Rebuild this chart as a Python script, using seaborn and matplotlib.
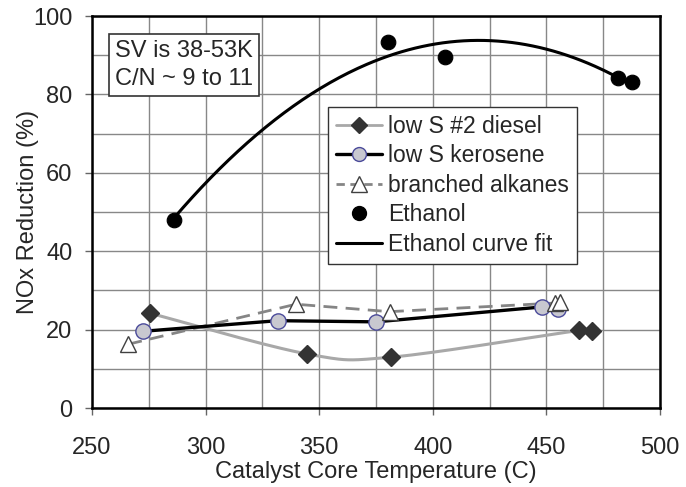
import numpy as np
import matplotlib
matplotlib.use("Agg")
import matplotlib.pyplot as plt
from matplotlib.lines import Line2D
from matplotlib.ticker import MultipleLocator
import seaborn as sns

diesel_t = [275.6, 344.8, 381.8, 464.4, 470.3]
diesel_nox = [24.2, 13.8, 13.0, 19.8, 19.6]

kero_t = [272.6, 331.7, 375.0, 448.0, 455.0]
kero_nox = [19.6, 22.3, 22.0, 25.8, 25.2]

alk_t = [266.0, 339.8, 381.0, 454.0, 456.0]
alk_nox = [16.3, 26.5, 24.6, 26.8, 27.0]

eth_t = [286.0, 380.2, 405.2, 481.6, 487.5]
eth_nox = [48.0, 93.4, 89.5, 84.1, 83.1]

labels = ["low S #2 diesel", "low S kerosene", "branched alkanes",
          "Ethanol", "Ethanol curve fit"]


def excel_smooth(x, y, n=40):
    # сглаженная линия как в Excel (кривые Безье)
    p = np.column_stack([x, y])
    p = np.vstack([p[0], p, p[-1]])
    out = []
    s = np.linspace(0, 1, n)[:, None]
    for i in range(1, len(p) - 2):
        p0, p1, p2, p3 = p[i - 1], p[i], p[i + 1], p[i + 2]
        c1 = p1 + (p2 - p0) / 6
        c2 = p2 - (p3 - p1) / 6
        seg = (1 - s) ** 3 * p1 + 3 * (1 - s) ** 2 * s * c1 + 3 * (1 - s) * s ** 2 * c2 + s ** 3 * p2
        out.append(seg)
    return np.vstack(out)


sns.set_style("white")
plt.rcParams['font.family'] = ['Liberation Sans', 'DejaVu Sans']

fig, ax = plt.subplots(figsize=(6.86, 4.87), dpi=100)
fig.subplots_adjust(left=0.134, right=0.962, top=0.967, bottom=0.162)

# дизель: сглаженная серая линия + ромбы
sm = excel_smooth(diesel_t, diesel_nox)
sns.lineplot(x=sm[:, 0], y=sm[:, 1], sort=False, estimator=None, ax=ax,
             color='#a8a8a8', linewidth=2.2, zorder=3)
ax.plot(diesel_t, diesel_nox, linestyle='none', marker='D', markersize=9,
        color='#333333', zorder=6)

# керосин
sns.lineplot(x=kero_t, y=kero_nox, sort=False, estimator=None, ax=ax,
             color='black', linewidth=2.4, zorder=4)
ax.plot(kero_t, kero_nox, linestyle='none', marker='o', markersize=11,
        markerfacecolor='#c8c8d0', markeredgecolor='#4a4a9a', markeredgewidth=1.0, zorder=7)

# разветвлённые алканы
sns.lineplot(x=alk_t, y=alk_nox, sort=False, estimator=None, ax=ax,
             color='#858585', linewidth=2.0, linestyle=(0, (5, 3)), zorder=3)
ax.plot(alk_t, alk_nox, linestyle='none', marker='^', markersize=12,
        markerfacecolor='white', markeredgecolor='#404040', markeredgewidth=1.0, zorder=8)

# этанол + квадратичная аппроксимация
sns.scatterplot(x=eth_t, y=eth_nox, ax=ax, color='black', s=110, edgecolor='black', zorder=9)
coef = np.polyfit(eth_t, eth_nox, 2)
tt = np.linspace(min(eth_t), max(eth_t), 200)
sns.lineplot(x=tt, y=np.polyval(coef, tt), ax=ax, color='black', linewidth=2.2, zorder=5)

ax.set_xlim(250, 500)
ax.set_ylim(0, 100)
ax.xaxis.set_major_locator(MultipleLocator(50))
ax.xaxis.set_minor_locator(MultipleLocator(25))
ax.yaxis.set_major_locator(MultipleLocator(20))
ax.yaxis.set_minor_locator(MultipleLocator(10))
ax.grid(True, which='both', color='#888888', linewidth=1.0)
ax.set_axisbelow(True)
ax.tick_params(which='major', direction='out', length=5, width=1, color='#666666',
               labelsize=17, bottom=True, left=True)
ax.tick_params(axis='x', which='major', pad=16)
ax.tick_params(axis='y', which='major', pad=9)
ax.tick_params(which='minor', length=0)
for sp in ax.spines.values():
    sp.set_color('black')
    sp.set_linewidth(1.8)

ax.set_xlabel("Catalyst Core Temperature (C)", fontsize=17, labelpad=1)
ax.set_ylabel("NOx Reduction (%)", fontsize=17, labelpad=-4)

ax.text(0.04, 0.94, "SV is 38-53K\nC/N ~ 9 to 11", transform=ax.transAxes,
        fontsize=17, va='top', ha='left', linespacing=1.4,
        bbox=dict(boxstyle='square,pad=0.25', facecolor='white', edgecolor='#333333', linewidth=1.2),
        zorder=10)

handles = [
    Line2D([], [], color='#a8a8a8', linewidth=2, marker='D', markersize=8,
           markerfacecolor='#333333', markeredgecolor='#333333'),
    Line2D([], [], color='black', linewidth=2.4, marker='o', markersize=10,
           markerfacecolor='#c8c8d0', markeredgecolor='#4a4a9a'),
    Line2D([], [], color='#858585', linewidth=2.0, linestyle=(0, (3, 2)), marker='^', markersize=11,
           markerfacecolor='white', markeredgecolor='#404040'),
    Line2D([], [], linestyle='none', color='black', marker='o', markersize=10),
    Line2D([], [], color='black', linewidth=2.2),
]
leg = ax.legend(handles, labels, loc='upper left', bbox_to_anchor=(0.415, 0.768),
                fontsize=16.5, frameon=True, fancybox=False, framealpha=1,
                edgecolor='#333333', handlelength=2.0, handletextpad=0.3,
                labelspacing=0.28, borderpad=0.35, borderaxespad=0)
leg.get_frame().set_linewidth(1.0)
leg.set_zorder(11)

fig.savefig("out.png", dpi=100)
